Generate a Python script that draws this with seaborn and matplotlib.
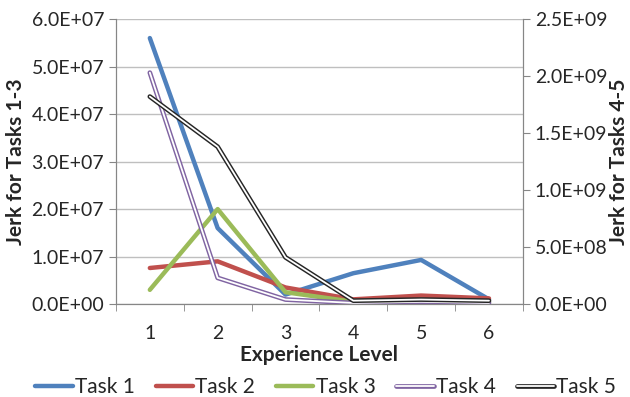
# Jerk vs experience level, two y axes
import numpy as np
import matplotlib
matplotlib.use("Agg")
import matplotlib.pyplot as plt
import matplotlib.patheffects as pe
from matplotlib.ticker import FuncFormatter
import seaborn as sns

levels = [1, 2, 3, 4, 5, 6]
task1 = [5.6e7, 1.6e7, 2.0e6, 6.5e6, 9.3e6, 1.0e6]
task2 = [7.6e6, 9.0e6, 3.5e6, 1.0e6, 1.8e6, 1.2e6]
task3 = [3.0e6, 2.0e7, 2.5e6, 5.0e5, 8.0e5, 5.0e5]
task4 = [2.03e9, 2.3e8, 4.0e7, 1.0e7, 2.0e7, 1.0e7]
task5 = [1.82e9, 1.38e9, 4.1e8, 3.0e7, 4.0e7, 3.0e7]

sns.set_style("white")
plt.rcParams["font.family"] = ["Lato", "DejaVu Sans"]

def sci(v, pos):
    m, e = f"{v:.1E}".split("E")
    return f"{m}E{e[0]}{int(e[1:]):02d}"

fig, ax = plt.subplots(figsize=(6.3, 3.97), dpi=100)
fig.subplots_adjust(left=0.184, right=0.830, top=0.952, bottom=0.234)
ax2 = ax.twinx()

sns.lineplot(x=levels, y=task1, ax=ax, color="#4F81BD", lw=3.2, label="Task 1", legend=False)
sns.lineplot(x=levels, y=task2, ax=ax, color="#C0504D", lw=3.2, label="Task 2", legend=False)
sns.lineplot(x=levels, y=task3, ax=ax, color="#9BBB59", lw=3.2, label="Task 3", legend=False)
for vals, col, name in [(task4, "#8064A2", "Task 4"), (task5, "#262626", "Task 5")]:
    sns.lineplot(x=levels, y=vals, ax=ax2, color="white", lw=1.3, label=name, legend=False,
                 path_effects=[pe.Stroke(linewidth=3.4, foreground=col), pe.Normal()])

ax.set_xlim(0.5, 6.5)
ax.set_ylim(0, 6e7)
ax2.set_ylim(0, 2.5e9)
ax.set_yticks(np.arange(0, 6.01e7, 1e7))
ax2.set_yticks(np.arange(0, 2.51e9, 5e8))
ax.yaxis.set_major_formatter(FuncFormatter(sci))
ax2.yaxis.set_major_formatter(FuncFormatter(sci))
ax.set_xticks(levels)
ax.set_xticks(np.arange(0.5, 6.6, 1), minor=True)
ax.tick_params(axis="x", which="major", length=0, labelsize=14, pad=15)
ax.tick_params(axis="x", which="minor", length=5, color="#868686", bottom=True)
ax.tick_params(axis="y", length=5, color="#868686", labelsize=14, left=True)
ax2.tick_params(axis="y", length=5, color="#868686", labelsize=14, right=True)
ax.grid(axis="y", color="#BFBFBF", lw=1)

for a in (ax, ax2):
    a.spines["top"].set_visible(False)
    for s in ("left", "right", "bottom"):
        a.spines[s].set_color("#868686")

ax.set_xlabel("Experience Level", fontsize=15, fontweight="bold", labelpad=2)
ax.set_ylabel("Jerk for Tasks 1-3", fontsize=15, fontweight="bold", labelpad=4)
ax2.set_ylabel("Jerk for Tasks 4-5", fontsize=15, fontweight="bold", labelpad=1)

h1, l1 = ax.get_legend_handles_labels()
h2, l2 = ax2.get_legend_handles_labels()
fig.legend(h1 + h2, l1 + l2, loc="center", bbox_to_anchor=(0.517, 0.025), ncol=5,
           frameon=False, fontsize=15, handlelength=1.8, handletextpad=0.1,
           columnspacing=1.0, borderpad=0)

fig.savefig("out.png", dpi=100)
